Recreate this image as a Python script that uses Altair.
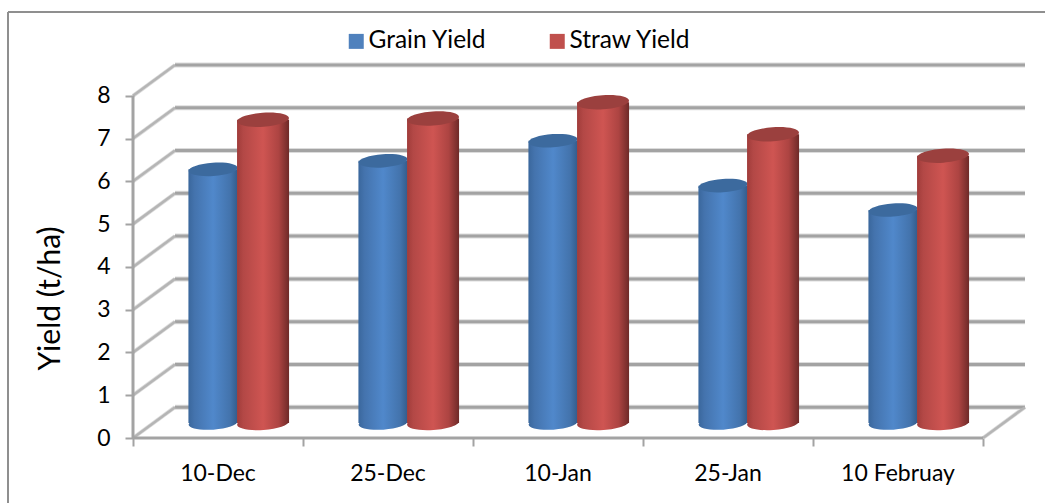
import altair as alt
import pandas as pd

# Sowing dates and the yields measured for each (t/ha)
dates = ["10-Dec", "25-Dec", "10-Jan", "25-Jan", "10 Februay"]
grain_yield = [5.93, 6.13, 6.6, 5.55, 4.98]
straw_yield = [7.09, 7.12, 7.5, 6.75, 6.25]
y_ticks = [0, 1, 2, 3, 4, 5, 6, 7, 8]
x_ticks = [0, 1, 2, 3, 4, 5]

FONT = "Lato"
GRID = "#a3a3a3"
GRID_SOFT = "#dcdcdc"

# Pseudo-3D projection: how far the back wall sits from the front plane, in axis units
DEPTH_X = 0.247
DEPTH_Y = 0.72
# Cylinders stand midway along the floor
LIFT_X = 0.118
LIFT_Y = 0.35


def linear(stops):
    return {
        "gradient": "linear",
        "x1": 0, "x2": 1, "y1": 0, "y2": 0,
        "stops": [{"offset": o, "color": c} for o, c in stops],
    }


BLUE_BODY = linear([(0, "#3a679c"), (0.12, "#4473ad"), (0.5, "#5088cb"), (0.85, "#4373ac"), (1, "#345b8a")])
RED_BODY = linear([(0, "#a03c3a"), (0.12, "#b34846"), (0.5, "#cf5552"), (0.8, "#ad4442"), (1, "#6e2a28")])
BLUE_TOP = "#3c6a9e"
RED_TOP = "#9b403e"

ELLIPSE = "M-1,0 A1,0.27 0 1 1 1,0 A1,0.27 0 1 1 -1,0 Z"

x_scale = alt.Scale(domain=[0, 5 + DEPTH_X], nice=False, zero=False)
y_scale = alt.Scale(domain=[0, 8 + DEPTH_Y], nice=False, zero=False)

# Every layer shares one axis definition so that the layers merge into a single axis
x_axis = alt.Axis(
    values=x_ticks, labels=False, title=None, domain=False, grid=False,
    ticks=True, tickSize=8, tickWidth=2, tickColor=GRID)
y_axis = alt.Axis(
    values=y_ticks, format="d", title="Yield (t/ha)", domain=False, grid=False,
    ticks=True, tickSize=8, tickWidth=2, tickColor=GRID,
    labelFont=FONT, labelFontSize=23, labelColor="#000000", labelPadding=15,
    titleFont=FONT, titleFontSize=30, titleFontWeight="normal", titleColor="#000000",
    titleX=-68, titleY=233)
X = lambda f: alt.X(f, type="quantitative", scale=x_scale, axis=x_axis)
Y = lambda f: alt.Y(f, type="quantitative", scale=y_scale, axis=y_axis)

# Wall, floor and side lines
back = pd.DataFrame({
    "x": [DEPTH_X] * len(y_ticks),
    "x2": [5 + DEPTH_X] * len(y_ticks),
    "y": [v + DEPTH_Y for v in y_ticks],
})
side = pd.DataFrame({
    "x": [0.0] * len(y_ticks),
    "x2": [DEPTH_X] * len(y_ticks),
    "y": [float(v) for v in y_ticks],
    "y2": [v + DEPTH_Y for v in y_ticks],
})
floor_edge = pd.DataFrame({"x": [5.0], "x2": [5 + DEPTH_X], "y": [0.0], "y2": [DEPTH_Y]})
front = pd.DataFrame({"x": [0.0], "x2": [5.0], "y": [0.0]})
wall = pd.DataFrame({"x": [0.0], "y": [0.0], "y2": [8.0]})


def lines(df, width, color):
    enc = {"x": X("x"), "y": Y("y")}
    if "x2" in df:
        enc["x2"] = alt.X2("x2")
    if "y2" in df:
        enc["y2"] = alt.Y2("y2")
    return alt.Chart(df).mark_rule(strokeWidth=width, color=color).encode(**enc)


scaffold = (
    lines(back, 5, GRID_SOFT) + lines(side, 4, GRID_SOFT) + lines(floor_edge, 4, GRID_SOFT)
    + lines(back, 3, GRID) + lines(side, 2.5, "#b5b5b5") + lines(floor_edge, 2.5, "#b5b5b5")
    + lines(front, 3, GRID) + lines(wall, 3, GRID)
)


def cylinders(values, shift, half, body, top, size):
    df = pd.DataFrame({
        "date": dates,
        "value": values,
        "x": [i + 0.5 + LIFT_X + shift - half for i in range(len(dates))],
        "x2": [i + 0.5 + LIFT_X + shift + half for i in range(len(dates))],
        "mid": [i + 0.5 + LIFT_X + shift for i in range(len(dates))],
        "base": [LIFT_Y] * len(dates),
        "top": [v + LIFT_Y for v in values],
    })
    shaft = alt.Chart(df).mark_rect(color=body).encode(
        x=X("x"), x2="x2", y=Y("base"), y2="top")
    foot = alt.Chart(df).mark_point(
        shape=ELLIPSE, size=size, filled=True, fill=body, opacity=1, strokeWidth=0, angle=356
    ).encode(x=X("mid"), y=Y("base"))
    cap = alt.Chart(df).mark_point(
        shape=ELLIPSE, size=size, filled=True, fill=top, opacity=1, strokeWidth=0, angle=356
    ).encode(x=X("mid"), y=Y("top"))
    return foot + shaft + cap


grain = cylinders(grain_yield, -0.147, 0.145, BLUE_BODY, BLUE_TOP, 2401)
straw = cylinders(straw_yield, 0.147, 0.153, RED_BODY, RED_TOP, 2704)

category_labels = alt.Chart(pd.DataFrame({
    "date": dates, "x": [i + 0.5 for i in range(len(dates))], "y": [0.0] * len(dates),
})).mark_text(font=FONT, fontSize=23, color="#000000", dy=36, baseline="middle").encode(
    x=X("x"), y=Y("y"), text="date:N")

# Legend driven by a colour scale on zero-sized points
series = ["Grain Yield", "Straw Yield"]
legend = alt.Chart(pd.DataFrame({"series": series, "x": [0.0, 0.0], "y": [0.0, 0.0]})).mark_square(size=0).encode(
    x=X("x"), y=Y("y"),
    color=alt.Color("series:N", scale=alt.Scale(domain=series, range=["#4f81bd", "#c0504d"]),
        legend=alt.Legend(
            title=None, orient="none", direction="horizontal", legendX=211, legendY=-36,
            symbolType="square", symbolSize=225, symbolOpacity=1, symbolStrokeWidth=0,
            labelFont=FONT, labelFontSize=24.5, labelColor="#000000", labelOffset=0,
            columnPadding=58, labelLimit=200)),
)

# Outer frame: only its top and left sides fall inside the canvas
frame_top = alt.Chart(pd.DataFrame({"a": [0]})).mark_rule(strokeWidth=2, color="#8f8f8f").encode(
    x=alt.value(-125), x2=alt.value(912), y=alt.value(-53))
frame_left = alt.Chart(pd.DataFrame({"a": [0]})).mark_rule(strokeWidth=2, color="#8f8f8f").encode(
    x=alt.value(-125), y=alt.value(-53), y2=alt.value(438))

chart = alt.layer(
    frame_top, frame_left, scaffold, grain, straw, category_labels, legend
).properties(
    width=892, height=373,
    padding={"left": 133, "top": 65, "right": 20, "bottom": 65},
    autosize=alt.AutoSizeParams(type="none"),
    background="#ffffff",
).configure_view(stroke=None)

chart.save("out.html", embed_options={"renderer": "svg", "actions": False})
